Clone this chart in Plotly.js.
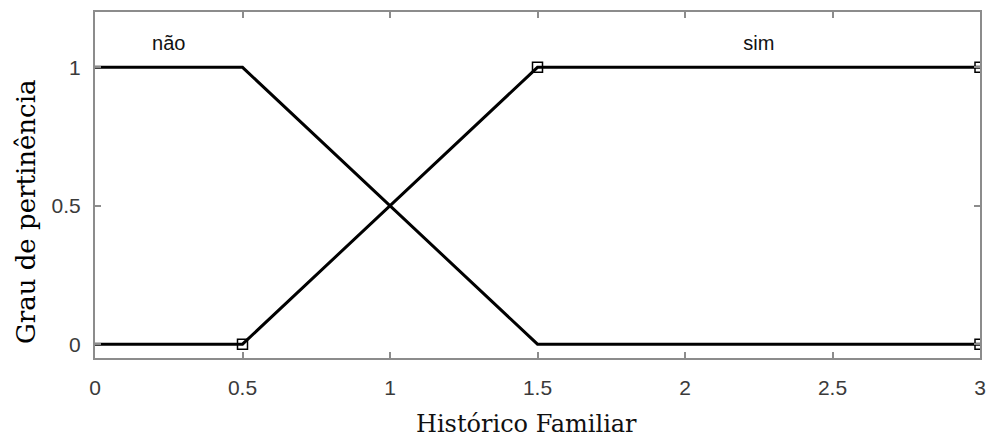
<!DOCTYPE html>
<html>
<head>
<meta charset="utf-8">
<script src="https://cdn.plot.ly/plotly-3.0.1.min.js"></script>
<style>
  html, body { margin: 0; padding: 0; background: #fff; }
  #plot { width: 994px; height: 439px; }
</style>
</head>
<body>
<div id="plot"></div>
<script>
// pontos das funções de pertinência
const xNao = [0, 0.5, 1.5, 3];
const yNao = [1, 1, 0, 0];
const xSim = [0, 0.5, 1.5, 3];
const ySim = [0, 0, 1, 1];

// pontos marcados (quadrados)
const xMarcas = [0.5, 1.5, 3, 3];
const yMarcas = [0, 1, 1, 0];

const rotulos = ['não', 'sim'];
const xRotulos = [0.25, 2.25];
const yRotulos = [1.08, 1.08];

const xTicks = [0, 0.5, 1, 1.5, 2, 2.5, 3];
const yTicks = [0, 0.5, 1];

const tituloX = 'Histórico Familiar';
const tituloY = 'Grau de pertinência';

const linha = { color: '#000', width: 3 };

const traceNao = { x: xNao, y: yNao, mode: 'lines', line: linha, name: rotulos[0] };
const traceSim = { x: xSim, y: ySim, mode: 'lines', line: linha, name: rotulos[1] };

const traceMarcas = {
  x: xMarcas,
  y: yMarcas,
  mode: 'markers',
  marker: { symbol: 'square-open', size: 10, color: '#000', line: { width: 1.5, color: '#000' } },
  hoverinfo: 'skip'
};

const traceRotulos = {
  x: xRotulos,
  y: yRotulos,
  mode: 'text',
  text: rotulos,
  textfont: { family: 'Liberation Sans, Arial, sans-serif', size: 20, color: '#111' },
  hoverinfo: 'skip'
};

const eixo = {
  showgrid: false,
  zeroline: false,
  showline: true,
  mirror: 'ticks',
  linecolor: '#8c8c8c',
  linewidth: 2,
  ticks: 'inside',
  ticklen: 6,
  tickwidth: 2,
  tickcolor: '#8c8c8c',
  automargin: false,
  tickfont: { family: 'Liberation Sans, Arial, sans-serif', size: 21, color: '#3a3a3a' }
};

const fonteTitulo = { family: 'DejaVu Serif, serif', color: '#111' };

const layout = {
  width: 994,
  height: 439,
  margin: { l: 95, r: 14, t: 12, b: 81 },
  paper_bgcolor: '#fff',
  plot_bgcolor: '#fff',
  showlegend: false,
  xaxis: Object.assign({}, eixo, {
    range: [0, 3],
    tickvals: xTicks,
    ticktext: xTicks.map(String),
    ticklabelstandoff: 10
  }),
  yaxis: Object.assign({}, eixo, {
    range: [-0.05, 1.2],
    tickvals: yTicks,
    ticktext: yTicks.map(String),
    ticklabelstandoff: 8
  }),
  // títulos dos eixos como anotações (deslocados como no original)
  annotations: [
    {
      text: tituloX, xref: 'paper', yref: 'paper', x: 0.488, y: 0,
      xanchor: 'center', yanchor: 'middle', yshift: -66, showarrow: false,
      font: Object.assign({ size: 24 }, fonteTitulo)
    },
    {
      text: tituloY, xref: 'paper', yref: 'paper', x: 0, y: 0.422,
      xanchor: 'center', yanchor: 'middle', xshift: -69, textangle: -90, showarrow: false,
      font: Object.assign({ size: 26 }, fonteTitulo, { color: '#000' })
    }
  ]
};

Plotly.newPlot('plot', [traceNao, traceSim, traceMarcas, traceRotulos], layout, { staticPlot: true });
</script>
</body>
</html>
